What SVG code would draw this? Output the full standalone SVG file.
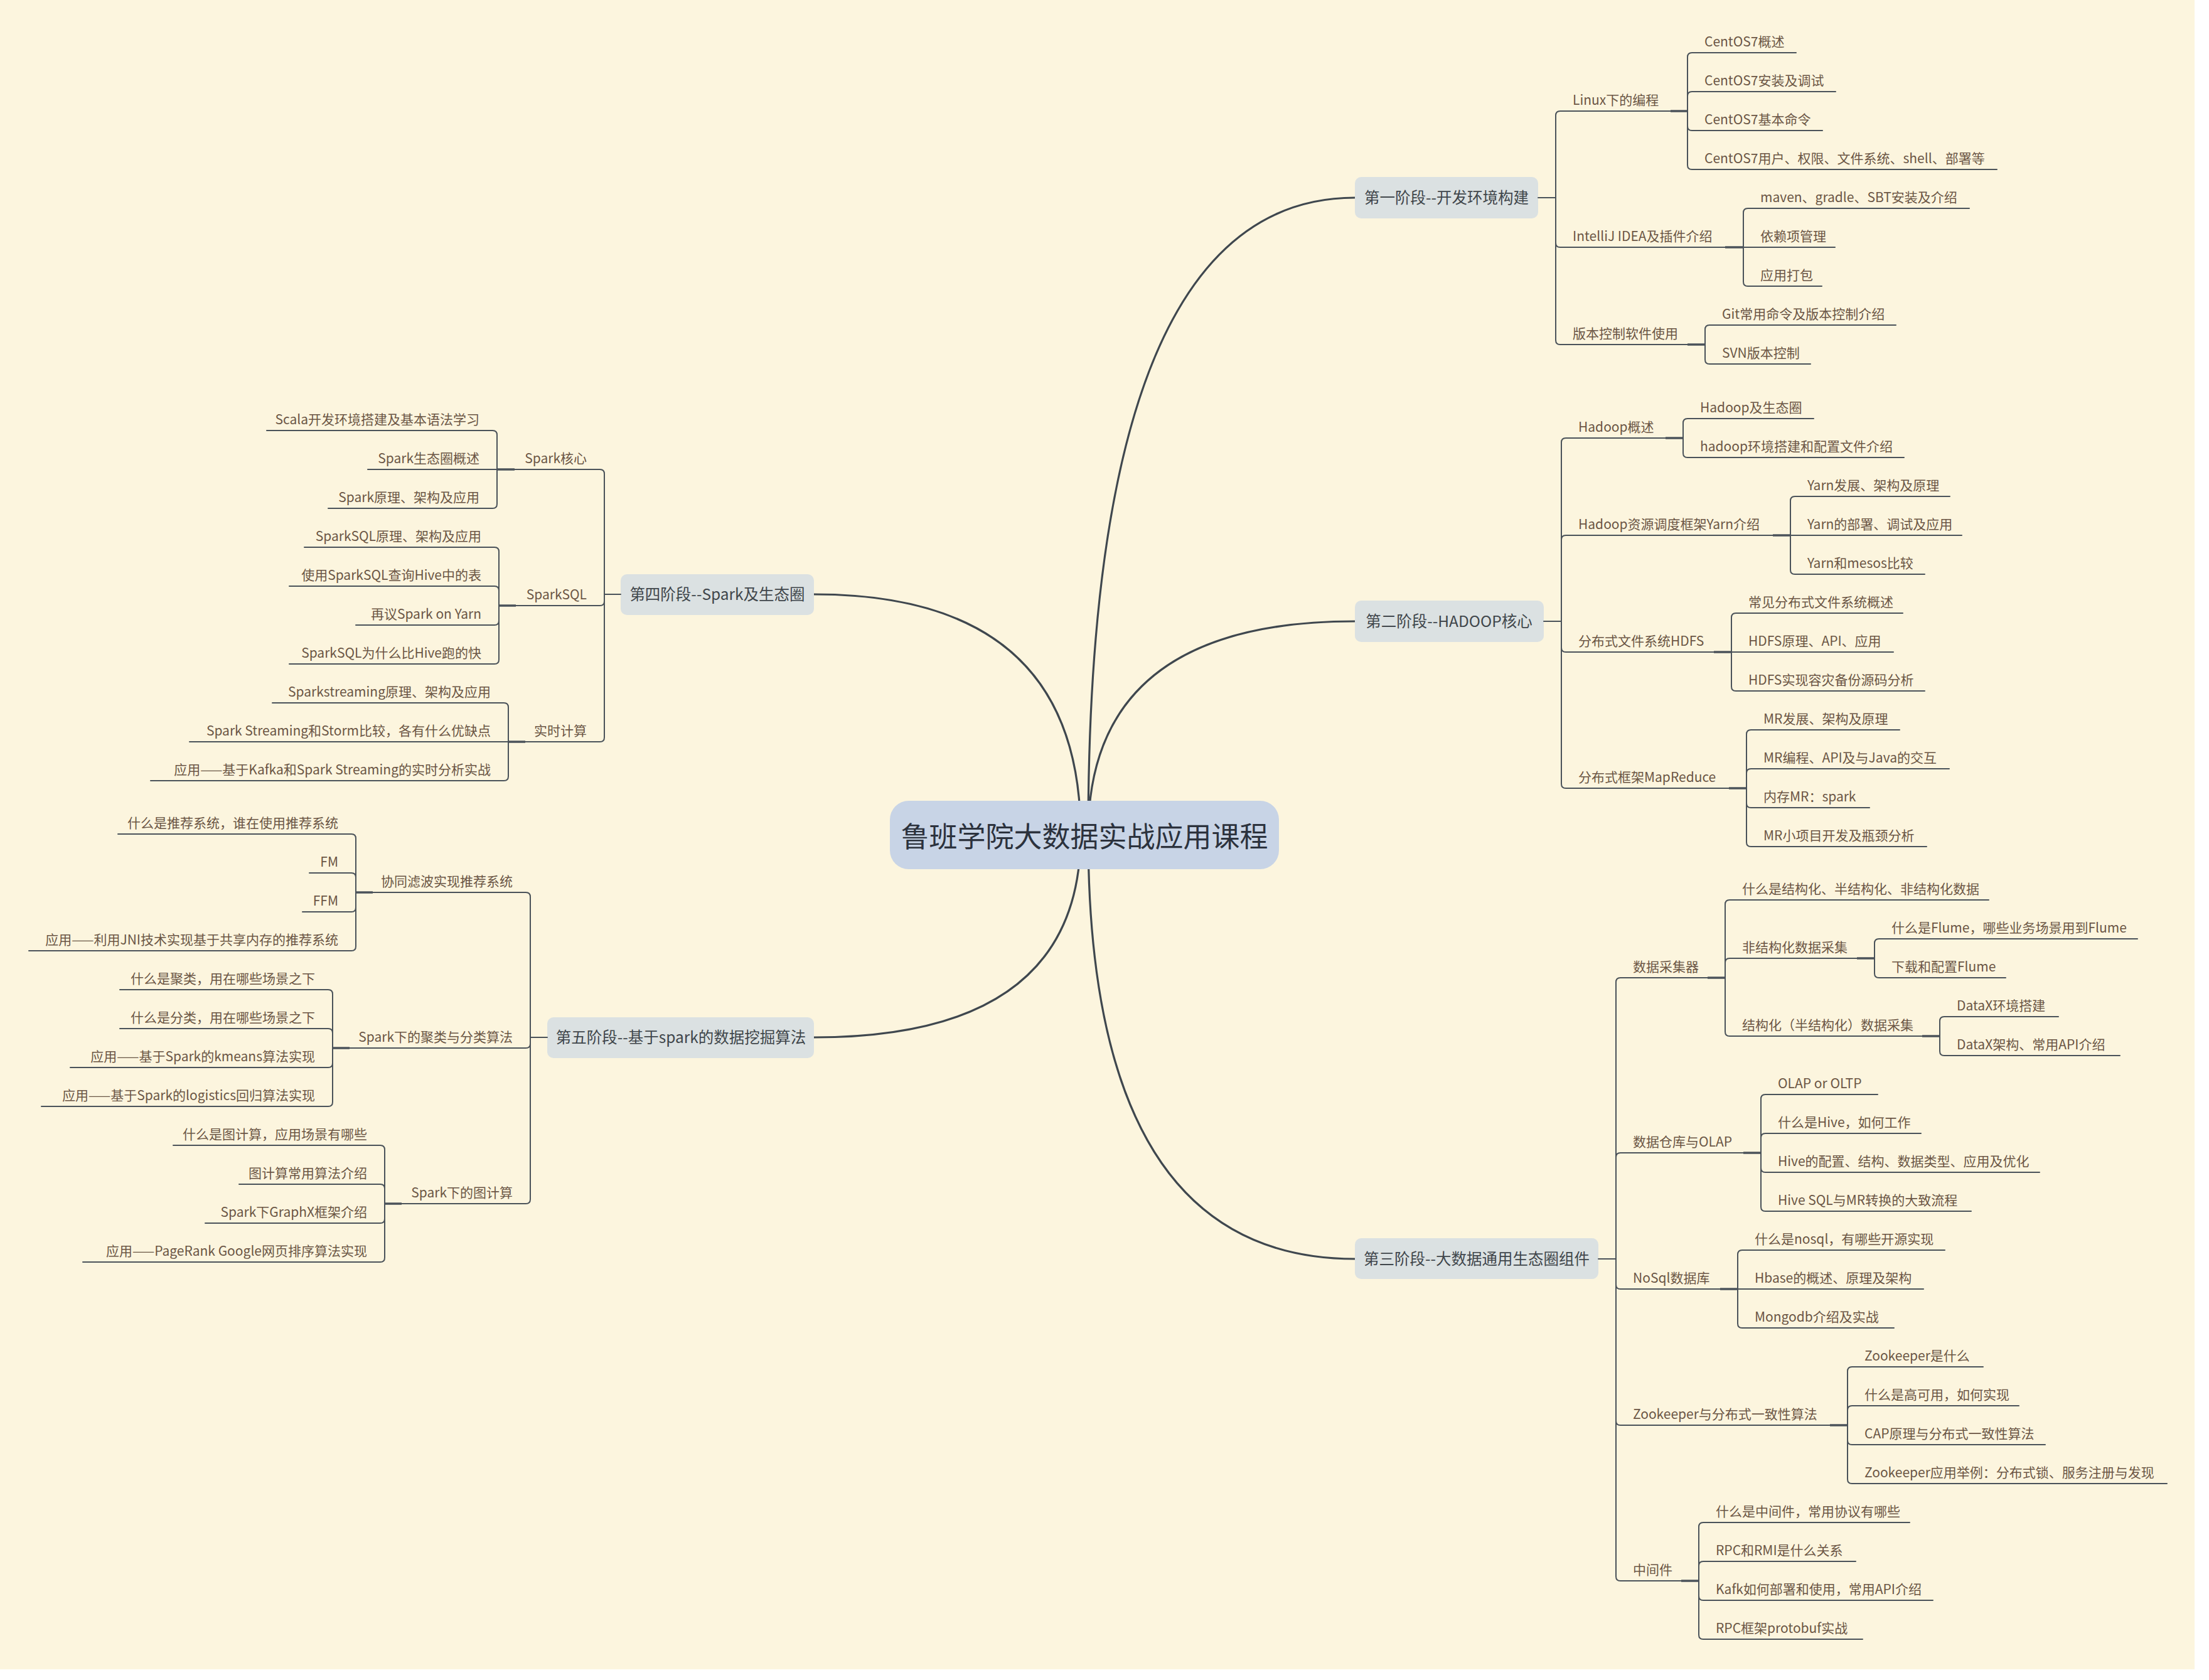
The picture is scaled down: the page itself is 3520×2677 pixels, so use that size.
<svg xmlns="http://www.w3.org/2000/svg" width="3520" height="2677" viewBox="0 0 3520 2677">
<style>
.ln{fill:none;stroke:#4a5259;stroke-width:2;stroke-linecap:round}
.tk{fill:none;stroke:#4a5259;stroke-width:3.5}
.cv{fill:none;stroke:#3f474e;stroke-width:3.2}
.lf{font-family:"Noto Sans CJK SC","Noto Sans",sans-serif;font-size:21px;fill:#6b5645}
.lt{text-anchor:end}
.ph{font-family:"Noto Sans CJK SC","Noto Sans",sans-serif;font-size:24.5px;fill:#40464b;text-anchor:middle}
.pb{fill:#dbe1e2}
</style>
<rect x="0" y="0" width="3520" height="2677" fill="#ffffff"/>
<rect x="0" y="0" width="3497" height="2660" fill="#fcf5de"/>

<g id="curves">
<path class="cv" d="M1734,1330 Q1734,315 2159,315"/>
<path class="cv" d="M1734,1330 Q1734,990 2159,990"/>
<path class="cv" d="M1734,1330 Q1734,2006 2159,2006"/>
<path class="cv" d="M1722,1330 Q1722,947 1297,947"/>
<path class="cv" d="M1722,1330 Q1722,1653 1297,1653"/>
</g>

<g id="center">
<rect x="1418" y="1276" width="620" height="109" rx="30" fill="#c8d4e6"/>
<text x="1728" y="1350" font-family="'Noto Sans CJK SC','Noto Sans',sans-serif" font-size="45" fill="#2c323d" text-anchor="middle">鲁班学院大数据实战应用课程</text>
</g>

<g id="phase1">
<rect class="pb" x="2159" y="282" width="292" height="66" rx="10"/>
<text class="ph" x="2305" y="324">第一阶段--开发环境构建</text>
</g>
<g id="phase2">
<rect class="pb" x="2159" y="957" width="301" height="66" rx="10"/>
<text class="ph" x="2309" y="999">第二阶段--HADOOP核心</text>
</g>
<g id="phase3">
<rect class="pb" x="2159" y="1973" width="388" height="65" rx="10"/>
<text class="ph" x="2353" y="2015">第三阶段--大数据通用生态圈组件</text>
</g>
<g id="phase4">
<rect class="pb" x="989" y="915" width="308" height="65" rx="10"/>
<text class="ph" x="1143" y="956">第四阶段--Spark及生态圈</text>
</g>
<g id="phase5">
<rect class="pb" x="872" y="1621" width="425" height="65" rx="10"/>
<text class="ph" x="1085" y="1662">第五阶段--基于spark的数据挖掘算法</text>
</g>

<g id="connectors">
<!-- phase 1 -->
<path class="ln" d="M2451,315 H2479"/>
<path class="ln" d="M2479,315 V184 Q2479,177 2486,177 H2689"/>
<path class="ln" d="M2479,315 V387 Q2479,394 2486,394 H2778"/>
<path class="ln" d="M2479,315 V542 Q2479,549 2486,549 H2717"/>
<path class="ln" d="M2689,177 V91 Q2689,84 2696,84 H2862"/>
<path class="ln" d="M2689,177 V153 Q2689,146 2696,146 H2925"/>
<path class="ln" d="M2689,177 V201 Q2689,208 2696,208 H2904"/>
<path class="ln" d="M2689,177 V263 Q2689,270 2696,270 H3182"/>
<path class="ln" d="M2778,394 V339 Q2778,332 2785,332 H3138"/>
<path class="ln" d="M2778,394 H2924"/>
<path class="ln" d="M2778,394 V449 Q2778,456 2785,456 H2903"/>
<path class="ln" d="M2717,549 V525 Q2717,518 2724,518 H3021"/>
<path class="ln" d="M2717,549 V573 Q2717,580 2724,580 H2885"/>
<!-- phase 2 -->
<path class="ln" d="M2460,990 H2488"/>
<path class="ln" d="M2488,990 V705 Q2488,698 2495,698 H2682"/>
<path class="ln" d="M2488,990 V860 Q2488,853 2495,853 H2853"/>
<path class="ln" d="M2488,990 V1032 Q2488,1039 2495,1039 H2759"/>
<path class="ln" d="M2488,990 V1249 Q2488,1256 2495,1256 H2783"/>
<path class="ln" d="M2682,698 V674 Q2682,667 2689,667 H2890"/>
<path class="ln" d="M2682,698 V722 Q2682,729 2689,729 H3034"/>
<path class="ln" d="M2853,853 V798 Q2853,791 2860,791 H3107"/>
<path class="ln" d="M2853,853 H3126"/>
<path class="ln" d="M2853,853 V908 Q2853,915 2860,915 H3067"/>
<path class="ln" d="M2759,1039 V984 Q2759,977 2766,977 H3032"/>
<path class="ln" d="M2759,1039 H3017"/>
<path class="ln" d="M2759,1039 V1094 Q2759,1101 2766,1101 H3067"/>
<path class="ln" d="M2783,1256 V1170 Q2783,1163 2790,1163 H3027"/>
<path class="ln" d="M2783,1256 V1232 Q2783,1225 2790,1225 H3106"/>
<path class="ln" d="M2783,1256 V1280 Q2783,1287 2790,1287 H2979"/>
<path class="ln" d="M2783,1256 V1342 Q2783,1349 2790,1349 H3070"/>
<!-- phase 3 -->
<path class="ln" d="M2547,2006 H2575"/>
<path class="ln" d="M2575,2006 V1565 Q2575,1558 2582,1558 H2749"/>
<path class="ln" d="M2575,2006 V1844 Q2575,1837 2582,1837 H2806"/>
<path class="ln" d="M2575,2006 V2047 Q2575,2054 2582,2054 H2769"/>
<path class="ln" d="M2575,2006 V2264 Q2575,2271 2582,2271 H2944"/>
<path class="ln" d="M2575,2006 V2512 Q2575,2519 2582,2519 H2707"/>
<path class="ln" d="M2749,1558 V1441 Q2749,1434 2756,1434 H3169"/>
<path class="ln" d="M2749,1558 V1534 Q2749,1527 2756,1527 H2987"/>
<path class="ln" d="M2749,1558 V1644 Q2749,1651 2756,1651 H3091"/>
<path class="ln" d="M2987,1527 V1503 Q2987,1496 2994,1496 H3406"/>
<path class="ln" d="M2987,1527 V1551 Q2987,1558 2994,1558 H3196"/>
<path class="ln" d="M3091,1651 V1627 Q3091,1620 3098,1620 H3280"/>
<path class="ln" d="M3091,1651 V1675 Q3091,1682 3098,1682 H3378"/>
<path class="ln" d="M2806,1837 V1751 Q2806,1744 2813,1744 H2992"/>
<path class="ln" d="M2806,1837 V1813 Q2806,1806 2813,1806 H3061"/>
<path class="ln" d="M2806,1837 V1861 Q2806,1868 2813,1868 H3250"/>
<path class="ln" d="M2806,1837 V1923 Q2806,1930 2813,1930 H3141"/>
<path class="ln" d="M2769,2054 V1999 Q2769,1992 2776,1992 H3099"/>
<path class="ln" d="M2769,2054 H3065"/>
<path class="ln" d="M2769,2054 V2109 Q2769,2116 2776,2116 H3018"/>
<path class="ln" d="M2944,2271 V2185 Q2944,2178 2951,2178 H3160"/>
<path class="ln" d="M2944,2271 V2247 Q2944,2240 2951,2240 H3217"/>
<path class="ln" d="M2944,2271 V2295 Q2944,2302 2951,2302 H3259"/>
<path class="ln" d="M2944,2271 V2357 Q2944,2364 2951,2364 H3453"/>
<path class="ln" d="M2707,2519 V2433 Q2707,2426 2714,2426 H3043"/>
<path class="ln" d="M2707,2519 V2495 Q2707,2488 2714,2488 H2957"/>
<path class="ln" d="M2707,2519 V2543 Q2707,2550 2714,2550 H3080"/>
<path class="ln" d="M2707,2519 V2605 Q2707,2612 2714,2612 H2968"/>
<!-- phase 4 -->
<path class="ln" d="M989,947 H963"/>
<path class="ln" d="M963,947 V755 Q963,748 956,748 H792"/>
<path class="ln" d="M963,947 V958 Q963,965 956,965 H795"/>
<path class="ln" d="M963,947 V1175 Q963,1182 956,1182 H810"/>
<path class="ln" d="M792,748 V693 Q792,686 785,686 H425"/>
<path class="ln" d="M792,748 H586"/>
<path class="ln" d="M792,748 V803 Q792,810 785,810 H523"/>
<path class="ln" d="M795,965 V879 Q795,872 788,872 H485"/>
<path class="ln" d="M795,965 V941 Q795,934 788,934 H461"/>
<path class="ln" d="M795,965 V989 Q795,996 788,996 H567"/>
<path class="ln" d="M795,965 V1051 Q795,1058 788,1058 H461"/>
<path class="ln" d="M810,1182 V1127 Q810,1120 803,1120 H434"/>
<path class="ln" d="M810,1182 H302"/>
<path class="ln" d="M810,1182 V1237 Q810,1244 803,1244 H240"/>
<!-- phase 5 -->
<path class="ln" d="M872,1653 H845"/>
<path class="ln" d="M845,1653 V1429 Q845,1422 838,1422 H567"/>
<path class="ln" d="M845,1653 V1663 Q845,1670 838,1670 H530"/>
<path class="ln" d="M845,1653 V1911 Q845,1918 838,1918 H613"/>
<path class="ln" d="M567,1422 V1336 Q567,1329 560,1329 H188"/>
<path class="ln" d="M567,1422 V1398 Q567,1391 560,1391 H493"/>
<path class="ln" d="M567,1422 V1446 Q567,1453 560,1453 H482"/>
<path class="ln" d="M567,1422 V1508 Q567,1515 560,1515 H46"/>
<path class="ln" d="M530,1670 V1584 Q530,1577 523,1577 H191"/>
<path class="ln" d="M530,1670 V1646 Q530,1639 523,1639 H191"/>
<path class="ln" d="M530,1670 V1694 Q530,1701 523,1701 H112"/>
<path class="ln" d="M530,1670 V1756 Q530,1763 523,1763 H66"/>
<path class="ln" d="M613,1918 V1832 Q613,1825 606,1825 H276"/>
<path class="ln" d="M613,1918 V1894 Q613,1887 606,1887 H381"/>
<path class="ln" d="M613,1918 V1942 Q613,1949 606,1949 H327"/>
<path class="ln" d="M613,1918 V2004 Q613,2011 606,2011 H132"/>
<!-- thicker joins -->
<path class="tk" d="M2662,177 H2689 M2749,394 H2778 M2689,549 H2717 M2654,698 H2682 M2825,853 H2853 M2731,1039 H2759 M2755,1256 H2783 M2721,1558 H2749 M2959,1527 H2987 M3063,1651 H3091 M2778,1837 H2806 M2741,2054 H2769 M2916,2271 H2944 M2679,2519 H2707 M792,748 H820 M795,965 H822 M810,1182 H837 M567,1422 H594 M530,1670 H557 M613,1918 H640"/>
</g>

<g id="phase1-topics">
<text class="lf" x="2506" y="167">Linux下的编程</text>
<text class="lf" x="2506" y="384">IntelliJ IDEA及插件介绍</text>
<text class="lf" x="2506" y="539">版本控制软件使用</text>
<text class="lf" x="2716" y="74">CentOS7概述</text>
<text class="lf" x="2716" y="136">CentOS7安装及调试</text>
<text class="lf" x="2716" y="198">CentOS7基本命令</text>
<text class="lf" x="2716" y="260">CentOS7用户、权限、文件系统、shell、部署等</text>
<text class="lf" x="2805" y="322">maven、gradle、SBT安装及介绍</text>
<text class="lf" x="2805" y="384">依赖项管理</text>
<text class="lf" x="2805" y="446">应用打包</text>
<text class="lf" x="2744" y="508">Git常用命令及版本控制介绍</text>
<text class="lf" x="2744" y="570">SVN版本控制</text>
</g>

<g id="phase2-topics">
<text class="lf" x="2515" y="688">Hadoop概述</text>
<text class="lf" x="2515" y="843">Hadoop资源调度框架Yarn介绍</text>
<text class="lf" x="2515" y="1029">分布式文件系统HDFS</text>
<text class="lf" x="2515" y="1246">分布式框架MapReduce</text>
<text class="lf" x="2709" y="657">Hadoop及生态圈</text>
<text class="lf" x="2709" y="719">hadoop环境搭建和配置文件介绍</text>
<text class="lf" x="2880" y="781">Yarn发展、架构及原理</text>
<text class="lf" x="2880" y="843">Yarn的部署、调试及应用</text>
<text class="lf" x="2880" y="905">Yarn和mesos比较</text>
<text class="lf" x="2786" y="967">常见分布式文件系统概述</text>
<text class="lf" x="2786" y="1029">HDFS原理、API、应用</text>
<text class="lf" x="2786" y="1091">HDFS实现容灾备份源码分析</text>
<text class="lf" x="2810" y="1153">MR发展、架构及原理</text>
<text class="lf" x="2810" y="1215">MR编程、API及与Java的交互</text>
<text class="lf" x="2810" y="1277">内存MR：spark</text>
<text class="lf" x="2810" y="1339">MR小项目开发及瓶颈分析</text>
</g>

<g id="phase3-topics">
<text class="lf" x="2602" y="1548">数据采集器</text>
<text class="lf" x="2602" y="1827">数据仓库与OLAP</text>
<text class="lf" x="2602" y="2044">NoSql数据库</text>
<text class="lf" x="2602" y="2261">Zookeeper与分布式一致性算法</text>
<text class="lf" x="2602" y="2509">中间件</text>
<text class="lf" x="2776" y="1424">什么是结构化、半结构化、非结构化数据</text>
<text class="lf" x="2776" y="1517">非结构化数据采集</text>
<text class="lf" x="2776" y="1641">结构化（半结构化）数据采集</text>
<text class="lf" x="3014" y="1486">什么是Flume，哪些业务场景用到Flume</text>
<text class="lf" x="3014" y="1548">下载和配置Flume</text>
<text class="lf" x="3118" y="1610">DataX环境搭建</text>
<text class="lf" x="3118" y="1672">DataX架构、常用API介绍</text>
<text class="lf" x="2833" y="1734">OLAP or OLTP</text>
<text class="lf" x="2833" y="1796">什么是Hive，如何工作</text>
<text class="lf" x="2833" y="1858">Hive的配置、结构、数据类型、应用及优化</text>
<text class="lf" x="2833" y="1920">Hive SQL与MR转换的大致流程</text>
<text class="lf" x="2796" y="1982">什么是nosql，有哪些开源实现</text>
<text class="lf" x="2796" y="2044">Hbase的概述、原理及架构</text>
<text class="lf" x="2796" y="2106">Mongodb介绍及实战</text>
<text class="lf" x="2971" y="2168">Zookeeper是什么</text>
<text class="lf" x="2971" y="2230">什么是高可用，如何实现</text>
<text class="lf" x="2971" y="2292">CAP原理与分布式一致性算法</text>
<text class="lf" x="2971" y="2354">Zookeeper应用举例：分布式锁、服务注册与发现</text>
<text class="lf" x="2734" y="2416">什么是中间件，常用协议有哪些</text>
<text class="lf" x="2734" y="2478">RPC和RMI是什么关系</text>
<text class="lf" x="2734" y="2540">Kafk如何部署和使用，常用API介绍</text>
<text class="lf" x="2734" y="2602">RPC框架protobuf实战</text>
</g>

<g id="phase4-topics">
<text class="lf lt" x="935" y="738">Spark核心</text>
<text class="lf lt" x="935" y="955">SparkSQL</text>
<text class="lf lt" x="935" y="1172">实时计算</text>
<text class="lf lt" x="764" y="676">Scala开发环境搭建及基本语法学习</text>
<text class="lf lt" x="764" y="738">Spark生态圈概述</text>
<text class="lf lt" x="764" y="800">Spark原理、架构及应用</text>
<text class="lf lt" x="767" y="862">SparkSQL原理、架构及应用</text>
<text class="lf lt" x="767" y="924">使用SparkSQL查询Hive中的表</text>
<text class="lf lt" x="767" y="986">再议Spark on Yarn</text>
<text class="lf lt" x="767" y="1048">SparkSQL为什么比Hive跑的快</text>
<text class="lf lt" x="782" y="1110">Sparkstreaming原理、架构及应用</text>
<text class="lf lt" x="782" y="1172">Spark Streaming和Storm比较，各有什么优缺点</text>
<text class="lf lt" x="782" y="1234">应用——基于Kafka和Spark Streaming的实时分析实战</text>
</g>

<g id="phase5-topics">
<text class="lf lt" x="817" y="1412">协同滤波实现推荐系统</text>
<text class="lf lt" x="817" y="1660">Spark下的聚类与分类算法</text>
<text class="lf lt" x="817" y="1908">Spark下的图计算</text>
<text class="lf lt" x="539" y="1319">什么是推荐系统，谁在使用推荐系统</text>
<text class="lf lt" x="539" y="1381">FM</text>
<text class="lf lt" x="539" y="1443">FFM</text>
<text class="lf lt" x="539" y="1505">应用——利用JNI技术实现基于共享内存的推荐系统</text>
<text class="lf lt" x="502" y="1567">什么是聚类，用在哪些场景之下</text>
<text class="lf lt" x="502" y="1629">什么是分类，用在哪些场景之下</text>
<text class="lf lt" x="502" y="1691">应用——基于Spark的kmeans算法实现</text>
<text class="lf lt" x="502" y="1753">应用——基于Spark的logistics回归算法实现</text>
<text class="lf lt" x="585" y="1815">什么是图计算，应用场景有哪些</text>
<text class="lf lt" x="585" y="1877">图计算常用算法介绍</text>
<text class="lf lt" x="585" y="1939">Spark下GraphX框架介绍</text>
<text class="lf lt" x="585" y="2001">应用——PageRank Google网页排序算法实现</text>
</g>
</svg>
